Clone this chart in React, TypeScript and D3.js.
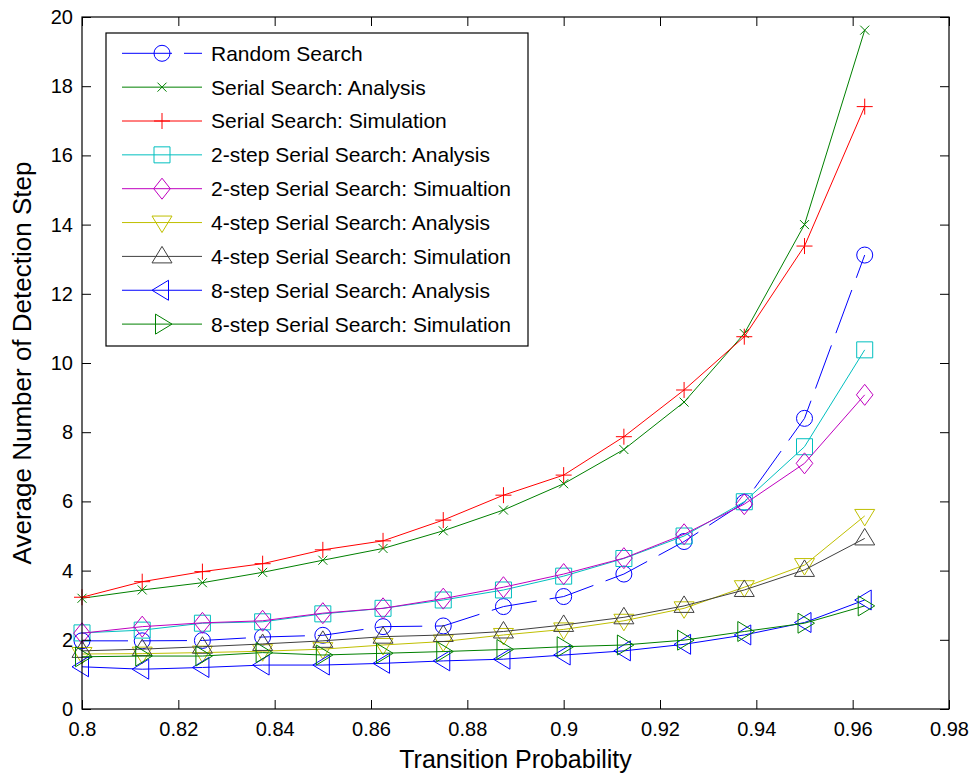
import { useEffect, useRef } from 'react';
import * as d3 from 'd3';

// x values (transition probability)
const transProb = [0.8, 0.8125, 0.825, 0.8375, 0.85, 0.8625, 0.875, 0.8875, 0.9, 0.9125, 0.925, 0.9375, 0.95, 0.9625];

const randomSearch = [1.97, 1.97, 1.98, 2.08, 2.13, 2.38, 2.4, 2.96, 3.25, 3.9, 4.84, 5.97, 8.4, 13.12];
const serialAnalysis = [3.2, 3.44, 3.65, 3.95, 4.3, 4.64, 5.15, 5.75, 6.51, 7.5, 8.87, 10.85, 14.0, 19.62];
const serialSim = [3.23, 3.68, 3.97, 4.2, 4.6, 4.86, 5.46, 6.18, 6.76, 7.87, 9.22, 10.76, 13.38, 17.41];
const twoStepAnalysis = [2.2, 2.28, 2.48, 2.52, 2.75, 2.91, 3.15, 3.44, 3.84, 4.35, 5.0, 5.99, 7.58, 10.38];
const twoStepSim = [2.19, 2.38, 2.49, 2.55, 2.77, 2.91, 3.19, 3.52, 3.9, 4.36, 5.05, 5.92, 7.1, 9.08];
const fourStepAnalysis = [1.59, 1.6, 1.63, 1.67, 1.73, 1.85, 1.95, 2.14, 2.3, 2.55, 2.91, 3.52, 4.16, 5.58];
const fourStepSim = [1.68, 1.73, 1.8, 1.88, 1.97, 2.09, 2.14, 2.24, 2.43, 2.65, 2.98, 3.44, 4.02, 4.93];
const eightStepAnalysis = [1.22, 1.15, 1.2, 1.27, 1.27, 1.32, 1.39, 1.44, 1.56, 1.68, 1.87, 2.14, 2.5, 3.15];
const eightStepSim = [1.51, 1.53, 1.53, 1.63, 1.56, 1.61, 1.66, 1.72, 1.8, 1.85, 1.99, 2.24, 2.48, 2.98];

const seriesNames = [
  'Random Search',
  'Serial Search: Analysis',
  'Serial Search: Simulation',
  '2-step Serial Search: Analysis',
  '2-step Serial Search: Simualtion',
  '4-step Serial Search: Analysis',
  '4-step Serial Search: Simulation',
  '8-step Serial Search: Analysis',
  '8-step Serial Search: Simulation',
];

const xTicks = [0.8, 0.82, 0.84, 0.86, 0.88, 0.9, 0.92, 0.94, 0.96, 0.98];
const xTickLabels = ['0.8', '0.82', '0.84', '0.86', '0.88', '0.9', '0.92', '0.94', '0.96', '0.98'];
const yTicks = [0, 2, 4, 6, 8, 10, 12, 14, 16, 18, 20];
const yTickLabels = ['0', '2', '4', '6', '8', '10', '12', '14', '16', '18', '20'];

const FONT = '"Liberation Sans", Arial, sans-serif';

// marker path centered at 0,0
const markerPath = (type) => {
  switch (type) {
    case 'circle':
      return 'M8,0A8,8 0 1,1 -8,0A8,8 0 1,1 8,0Z';
    case 'x':
      return 'M-4.5,-4.5L4.5,4.5M-4.5,4.5L4.5,-4.5';
    case 'plus':
      return 'M-8,0L8,0M0,-8L0,8';
    case 'square':
      return 'M-8,-8H8V8H-8Z';
    case 'diamond':
      return 'M0,-10.5L8.3,0L0,10.5L-8.3,0Z';
    case 'down':
      return 'M-10,-6.5H10L0,10Z';
    case 'up':
      return 'M-10,6.5H10L0,-10Z';
    case 'left':
      return 'M6.5,-10V10L-10,0Z';
    case 'right':
      return 'M-6.5,-10V10L10,0Z';
    default:
      return '';
  }
};

const App = () => {
  const svgRef = useRef(null);

  useEffect(() => {
    const width = 977;
    const height = 775;
    const left = 82, right = 949, top = 17, bottom = 709;

    const svg = d3.select(svgRef.current);
    svg.selectAll('*').remove();
    svg.attr('width', width).attr('height', height);

    svg.append('rect').attr('width', width).attr('height', height).attr('fill', '#fff');

    const x = d3.scaleLinear().domain([0.8, 0.98]).range([left, right]);
    const y = d3.scaleLinear().domain([0, 20]).range([bottom, top]);

    const series = [
      { values: randomSearch, color: '#0000ff', marker: 'circle', dash: '46,13' },
      { values: serialAnalysis, color: '#008000', marker: 'x' },
      { values: serialSim, color: '#ff0000', marker: 'plus' },
      { values: twoStepAnalysis, color: '#00bfbf', marker: 'square' },
      { values: twoStepSim, color: '#bf00bf', marker: 'diamond' },
      { values: fourStepAnalysis, color: '#bfbf00', marker: 'down' },
      { values: fourStepSim, color: '#404040', marker: 'up' },
      { values: eightStepAnalysis, color: '#0000ff', marker: 'left' },
      { values: eightStepSim, color: '#008000', marker: 'right' },
    ];

    const line = d3.line()
      .x((d) => x(d[0]))
      .y((d) => y(d[1]));

    const plot = svg.append('g');
    series.forEach((s) => {
      const pts = transProb.map((p, i) => [p, s.values[i]]);
      plot.append('path')
        .attr('d', line(pts))
        .attr('fill', 'none')
        .attr('stroke', s.color)
        .attr('stroke-width', 1)
        .attr('stroke-dasharray', s.dash || null);
      plot.selectAll(null)
        .data(pts)
        .enter()
        .append('path')
        .attr('transform', (d) => `translate(${x(d[0])},${y(d[1])})`)
        .attr('d', markerPath(s.marker))
        .attr('fill', 'none')
        .attr('stroke', s.color)
        .attr('stroke-width', 1);
    });

    // axes (ticks point inward, mirrored on top/right)
    const styleAxis = (g) => {
      g.select('.domain').remove();
      g.selectAll('line').attr('stroke', '#000');
      g.selectAll('text')
        .attr('fill', '#000')
        .style('font-family', FONT)
        .style('font-size', '20px');
    };

    svg.append('g')
      .attr('transform', `translate(0,${bottom})`)
      .call(d3.axisBottom(x).tickValues(xTicks).tickFormat((d, i) => xTickLabels[i]).tickSize(-9).tickPadding(12.5))
      .call(styleAxis);

    svg.append('g')
      .attr('transform', `translate(0,${top})`)
      .call(d3.axisTop(x).tickValues(xTicks).tickFormat(() => '').tickSize(-9))
      .call(styleAxis);

    svg.append('g')
      .attr('transform', `translate(${left},0)`)
      .call(d3.axisLeft(y).tickValues(yTicks).tickFormat((d, i) => yTickLabels[i]).tickSize(-9).tickPadding(9))
      .call(styleAxis);

    svg.append('g')
      .attr('transform', `translate(${right},0)`)
      .call(d3.axisRight(y).tickValues(yTicks).tickFormat(() => '').tickSize(-9))
      .call(styleAxis);

    svg.append('rect')
      .attr('x', left)
      .attr('y', top)
      .attr('width', right - left)
      .attr('height', bottom - top)
      .attr('fill', 'none')
      .attr('stroke', '#000')
      .attr('stroke-width', 1.2);

    // axis titles
    svg.append('text')
      .attr('x', (left + right) / 2)
      .attr('y', 768)
      .attr('text-anchor', 'middle')
      .style('font-family', FONT)
      .style('font-size', '25px')
      .text('Transition Probability');

    svg.append('text')
      .attr('transform', `translate(31,${(top + bottom) / 2}) rotate(-90)`)
      .attr('text-anchor', 'middle')
      .style('font-family', FONT)
      .style('font-size', '26px')
      .text('Average Number of Detection Step');

    // legend
    const legend = svg.append('g');
    legend.append('rect')
      .attr('x', 106)
      .attr('y', 33)
      .attr('width', 422)
      .attr('height', 313)
      .attr('fill', '#fff')
      .attr('stroke', '#000')
      .attr('stroke-width', 1.2);

    series.forEach((s, i) => {
      const ry = 53.3 + i * 33.85;
      legend.append('line')
        .attr('x1', 122)
        .attr('x2', 202)
        .attr('y1', ry)
        .attr('y2', ry)
        .attr('stroke', s.color)
        .attr('stroke-width', 1)
        .attr('stroke-dasharray', s.dash ? '50,12' : null);
      legend.append('path')
        .attr('transform', `translate(162,${ry})`)
        .attr('d', markerPath(s.marker))
        .attr('fill', 'none')
        .attr('stroke', s.color)
        .attr('stroke-width', 1);
      legend.append('text')
        .attr('x', 211)
        .attr('y', ry + 7.4)
        .style('font-family', FONT)
        .style('font-size', '21px')
        .attr('fill', '#000')
        .text(seriesNames[i]);
    });
  }, []);

  return (
    <div style={{ position: 'absolute', left: 0, top: 0 }}>
      <svg ref={svgRef} style={{ display: 'block' }}></svg>
    </div>
  );
};

export default App;
